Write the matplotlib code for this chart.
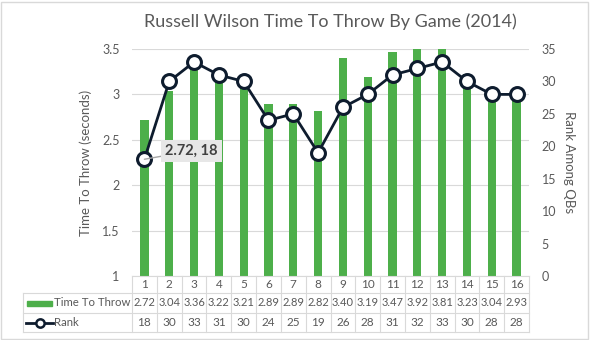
import matplotlib.pyplot as plt
import matplotlib.transforms as mtransforms
from matplotlib.patches import Rectangle
from matplotlib.lines import Line2D

games = list(range(1, 17))
time_to_throw = [2.72, 3.04, 3.36, 3.22, 3.21, 2.89, 2.89, 2.82,
                 3.40, 3.19, 3.47, 3.92, 3.81, 3.23, 3.04, 2.93]
rank = [18, 30, 33, 31, 30, 24, 25, 19, 26, 28, 31, 32, 33, 30, 28, 28]

green = '#4DAF4A'
navy = '#0E1C2E'
txt = '#595959'
grid = '#D9D9D9'

plt.rcParams['font.family'] = ['Lato', 'DejaVu Sans']

W, H = 590, 340
fig = plt.figure(figsize=(W / 100, H / 100), dpi=100)

def fx(x):
    return x / W

def fy(y):
    return 1 - y / H

# plot area in pixels
left, right, top, bottom = 132, 529, 49, 276
ax = fig.add_axes([fx(left), fy(bottom), fx(right - left), (bottom - top) / H])
x = list(range(len(games)))
ax.bar(x, [v - 1 for v in time_to_throw], bottom=1, width=0.33, color=green, zorder=2)
ax.set_xlim(-0.5, len(games) - 0.5)
ax.set_ylim(1, 3.5)
ax.set_yticks([1, 1.5, 2, 2.5, 3, 3.5])
ax.set_yticklabels(['1', '1.5', '2', '2.5', '3', '3.5'])
ax.yaxis.grid(True, color=grid, lw=0.8, zorder=0)
ax.set_xticks([])
ax.tick_params(axis='y', length=0, pad=9, labelsize=9, labelcolor=txt)
for s in ['top', 'right', 'left']:
    ax.spines[s].set_visible(False)
ax.spines['bottom'].set_color(grid)
ax.set_ylabel('Time To Throw (seconds)', fontsize=9.5, color=txt, labelpad=7)

ax2 = ax.twinx()
ax2.plot(x, rank, color=navy, lw=2, marker='o', ms=10, mfc='white', mec=navy,
         mew=2.2, zorder=5, clip_on=False)
ax2.set_ylim(0, 35)
ax2.set_yticks(range(0, 36, 5))
ax2.tick_params(axis='y', length=0, pad=9, labelsize=9, labelcolor=txt)
for s in ax2.spines.values():
    s.set_visible(False)
ax2.set_ylabel('Rank Among QBs', fontsize=9.5, color=txt, rotation=270, labelpad=14)

# data label on the first game
ax2.annotate(f'{time_to_throw[0]:.2f}, {rank[0]}', xy=(x[0], rank[0]),
             xytext=(15, 6), textcoords='offset points', fontsize=10.5,
             fontweight='bold', color='#404040', va='center', ha='left',
             bbox=dict(boxstyle='square,pad=0.3', fc='#E7E7E7', ec='none'),
             arrowprops=dict(arrowstyle='-', color='#A6A6A6', lw=1,
                             shrinkA=0, shrinkB=0), zorder=6)

ax.set_title('Russell Wilson Time To Throw By Game (2014)', fontsize=13,
             color=txt, pad=16)

# data table under the chart
bt = mtransforms.blended_transform_factory(ax.transData, fig.transFigure)
row_lines = [276, 293, 313, 332]
row_mid = [285, 303, 322.5]
tab_left = 23
for i in range(len(games) + 1):
    fig.add_artist(Line2D([i - 0.5, i - 0.5], [fy(row_lines[0]), fy(row_lines[-1])],
                          transform=bt, color=grid, lw=0.8))
for y in row_lines[1:]:
    fig.add_artist(Line2D([fx(tab_left), fx(right)], [fy(y), fy(y)],
                          transform=fig.transFigure, color=grid, lw=0.8))
fig.add_artist(Line2D([fx(tab_left), fx(tab_left)], [fy(row_lines[1]), fy(row_lines[-1])],
                      transform=fig.transFigure, color=grid, lw=0.8))

for i, g in enumerate(games):
    fig.text(i, fy(row_mid[0]), str(g), transform=bt, ha='center', va='center',
             fontsize=8.5, color=txt)
    fig.text(i, fy(row_mid[1]), f'{time_to_throw[i]:.2f}', transform=bt,
             ha='center', va='center', fontsize=8, color=txt)
    fig.text(i, fy(row_mid[2]), str(rank[i]), transform=bt, ha='center',
             va='center', fontsize=8.5, color=txt)

# legend keys in the table
fig.add_artist(Rectangle((fx(27), fy(306)), fx(25), 5 / H, transform=fig.transFigure,
                         color=green))
fig.text(fx(54), fy(row_mid[1]), 'Time To Throw', ha='left', va='center',
         fontsize=8.2, color=txt)
fig.add_artist(Line2D([fx(26), fx(53)], [fy(row_mid[2]), fy(row_mid[2])],
                      transform=fig.transFigure, color=navy, lw=2))
fig.add_artist(Line2D([fx(39.5)], [fy(row_mid[2])], transform=fig.transFigure,
                      marker='o', ms=6, mfc='white', mec=navy, mew=1.8))
fig.text(fx(54), fy(row_mid[2]), 'Rank', ha='left', va='center',
         fontsize=8.2, color=txt)

# chart border
fig.add_artist(Rectangle((0.5 / W, 1.5 / H), 1 - 2.5 / W, 1 - 3 / H,
                         transform=fig.transFigure, fill=False, ec='#D9D9D9', lw=1))

fig.savefig('out.png', dpi=100)
